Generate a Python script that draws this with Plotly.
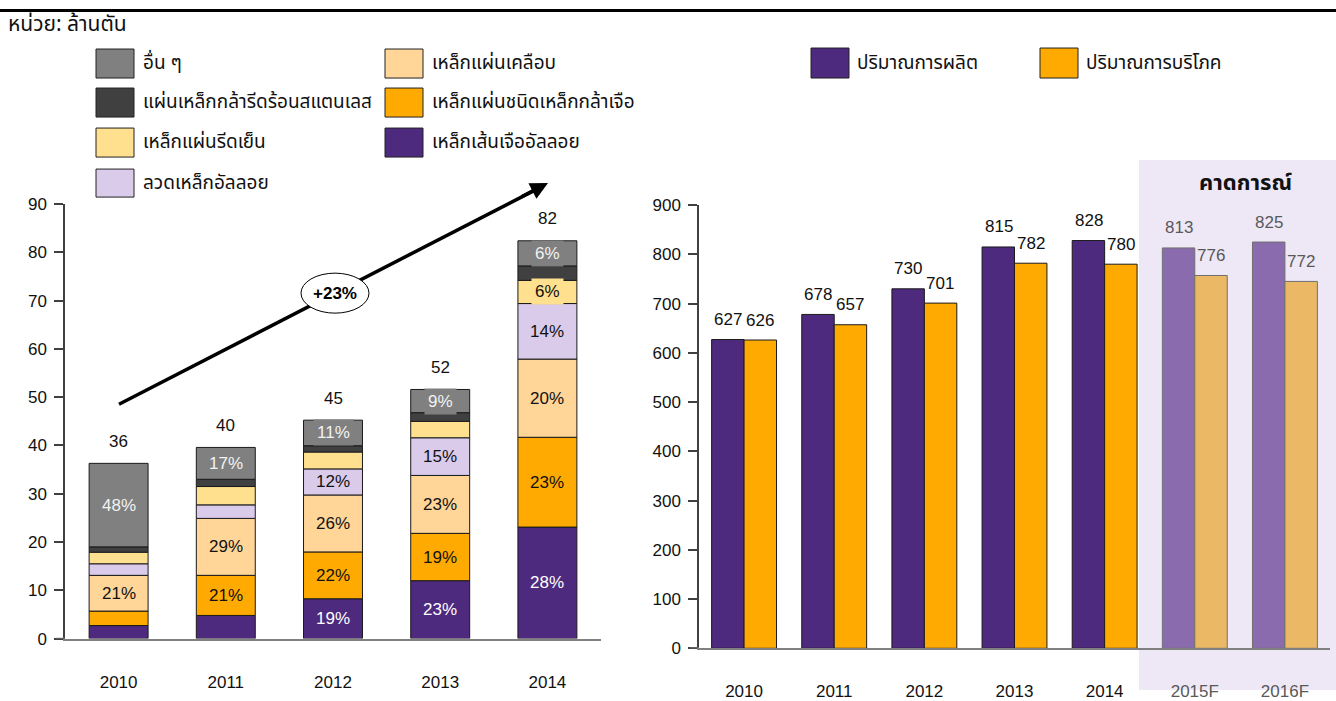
import plotly.graph_objects as go

# ---------------- data ----------------
years = ["2010", "2011", "2012", "2013", "2014"]
totals_text = ["36", "40", "45", "52", "82"]

# stacked segments (million tonnes), bottom -> top
alloy_bar = [2.7, 4.8, 8.25, 12.0, 23.1]
alloy_plate = [3.0, 8.3, 9.7, 9.8, 18.6]
coated = [7.4, 11.8, 11.8, 12.0, 16.2]
alloy_wire = [2.4, 2.8, 5.4, 7.8, 11.5]
cold_rolled = [2.4, 3.8, 3.5, 3.4, 4.8]
hr_stainless = [1.1, 1.5, 1.3, 1.8, 3.0]
others = [17.3, 6.6, 5.3, 4.8, 5.2]

alloy_bar_pct = ["", "", "19%", "23%", "28%"]
alloy_plate_pct = ["", "21%", "22%", "19%", "23%"]
coated_pct = ["21%", "29%", "26%", "23%", "20%"]
alloy_wire_pct = ["", "", "12%", "15%", "14%"]
cold_rolled_pct = ["", "", "", "", "6%"]
hr_stainless_pct = ["", "", "", "", ""]
others_pct = ["48%", "17%", "11%", "9%", "6%"]

growth_label = "+23%"

periods = ["2010", "2011", "2012", "2013", "2014", "2015F", "2016F"]
is_forecast = [False, False, False, False, False, True, True]
production = [627, 678, 730, 815, 828, 813, 825]
production_labels = ["627", "678", "730", "815", "828", "813", "825"]
consumption = [626, 657, 701, 782, 780, 757, 745]
consumption_labels = ["626", "657", "701", "782", "780", "776", "772"]

unit_label = "หน่วย: ล้านตัน"
forecast_label = "คาดการณ์"

# ---------------- styles ----------------
W, H = 1336, 701
# vertical calibration of the captured page (observed = Y0 + YS * figure_y)
Y0, YS = 9.0, 0.971
FONT = "Arial, 'Liberation Sans', sans-serif"
THAI = "Tahoma, 'Leelawadee UI', 'Noto Sans Thai', 'Noto Sans', sans-serif"

def fx(p):
    return min(1.0, max(0.0, p / W))

def fy(p):
    return min(1.0, max(0.0, 1 - ((p - Y0) / YS) / H))

stack = [
    ("เหล็กเส้นเจืออัลลอย", alloy_bar, alloy_bar_pct, "#4E2A7E", "white", None),
    ("เหล็กแผ่นชนิดเหล็กกล้าเจือ", alloy_plate, alloy_plate_pct, "#FFAA00", "#111111", None),
    ("เหล็กแผ่นเคลือบ", coated, coated_pct, "#FFD598", "#111111", None),
    ("ลวดเหล็กอัลลอย", alloy_wire, alloy_wire_pct, "#DACBEB", "#111111", None),
    ("เหล็กแผ่นรีดเย็น", cold_rolled, cold_rolled_pct, "#FFE08F", "#111111", "#FFE08F"),
    ("แผ่นเหล็กกล้ารีดร้อนสแตนเลส", hr_stainless, hr_stainless_pct, "#404040", "white", None),
    ("อื่น ๆ", others, others_pct, "#808080", "#F2F2F2", "#808080"),
]

fig = go.Figure()
annotations = []
shapes = []

# ---------------- left stacked chart ----------------
base = [0.0] * len(years)
for name, vals, pcts, color, tcolor, bg in stack:
    fig.add_trace(go.Bar(
        x=years, y=vals, base=list(base), name=name,
        marker=dict(color=color, line=dict(color="#1a1a1a", width=1)),
        width=0.55, xaxis="x", yaxis="y", showlegend=False,
    ))
    for j, t in enumerate(pcts):
        if t:
            annotations.append(dict(
                x=j, y=base[j] + vals[j] / 2, xref="x", yref="y",
                text=t, showarrow=False,
                font=dict(family=FONT, size=17, color=tcolor),
                bgcolor=bg if bg else "rgba(0,0,0,0)", borderpad=3,
            ))
    base = [b + v for b, v in zip(base, vals)]

for j, t in enumerate(totals_text):
    annotations.append(dict(
        x=j, y=base[j], xref="x", yref="y", yshift=22,
        text=t, showarrow=False, font=dict(family=FONT, size=17, color="#111111"),
    ))

# growth arrow (paper coordinates)
shapes.append(dict(type="line", xref="paper", yref="paper", x0=fx(119), y0=fy(404),
                   x1=fx(533), y1=fy(191), line=dict(color="black", width=3.5), layer="above"))
shapes.append(dict(type="circle", xref="paper", yref="paper", xsizemode="pixel", ysizemode="pixel",
                   xanchor=fx(335), yanchor=fy(293), x0=-34, x1=34, y0=-20, y1=20,
                   fillcolor="white", line=dict(color="black", width=1), layer="above"))
annotations.append(dict(x=fx(548), y=fy(183), xref="paper", yref="paper",
                        ax=-28, ay=14.4, text="", showarrow=True,
                        arrowhead=2, arrowsize=1, arrowwidth=3.5, arrowcolor="black"))
annotations.append(dict(x=fx(335), y=fy(293), xref="paper", yref="paper",
                        xanchor="center", yanchor="middle",
                        text="<b>" + growth_label + "</b>",
                        showarrow=False, font=dict(family=FONT, size=17, color="black")))

# ---------------- right grouped chart ----------------
shapes.append(dict(type="rect", xref="paper", yref="paper", x0=fx(1139), x1=1,
                   y0=0, y1=fy(160), fillcolor="#EEE8F6", line=dict(width=0), layer="below"))

prod_colors = ["#8A6BAE" if f else "#4E2A7E" for f in is_forecast]
cons_colors = ["#EBB866" if f else "#FFAA00" for f in is_forecast]
line_colors = ["#707070" if f else "#1a1a1a" for f in is_forecast]
lab_colors = ["#595959" if f else "#111111" for f in is_forecast]

fig.add_trace(go.Bar(
    x=periods, y=production, name="ปริมาณการผลิต", xaxis="x2", yaxis="y2",
    width=0.36, offset=-0.36,
    marker=dict(color=prod_colors, line=dict(color=line_colors, width=1)),
    showlegend=False,
))
fig.add_trace(go.Bar(
    x=periods, y=consumption, name="ปริมาณการบริโภค", xaxis="x2", yaxis="y2",
    width=0.36, offset=0,
    marker=dict(color=cons_colors, line=dict(color=line_colors, width=1)),
    showlegend=False,
))
for j, p in enumerate(periods):
    annotations.append(dict(x=j, y=production[j], xref="x2", yref="y2", xshift=-16, yshift=20,
                            text=production_labels[j], showarrow=False,
                            font=dict(family=FONT, size=17, color=lab_colors[j])))
    annotations.append(dict(x=j, y=consumption[j], xref="x2", yref="y2", xshift=16, yshift=20,
                            text=consumption_labels[j], showarrow=False,
                            font=dict(family=FONT, size=17, color=lab_colors[j])))

period_ticktext = [
    ("<span style='color:#595959'>%s</span>" % p) if f else p
    for p, f in zip(periods, is_forecast)
]

annotations.append(dict(x=fx(1245), y=fy(183), xref="paper", yref="paper",
                        xanchor="center", yanchor="middle",
                        text="<b>" + forecast_label + "</b>", showarrow=False,
                        font=dict(family=THAI, size=22, color="#111111")))

# ---------------- legends (drawn) ----------------
left_legend_order = [6, 5, 4, 3, 2, 1, 0]  # others, hr, cold, wire | coated, plate, bar
rows = [(49, 78), (88, 117), (128, 157), (169, 197)]
left_slots = [(96, 134, rows[0]), (96, 134, rows[1]), (96, 134, rows[2]), (96, 134, rows[3]),
              (385, 423, rows[0]), (385, 423, rows[1]), (385, 423, rows[2])]
for idx, (x0, x1, (y0, y1)) in zip(left_legend_order, left_slots):
    name, _, _, color, _, _ = stack[idx]
    shapes.append(dict(type="rect", xref="paper", yref="paper", x0=fx(x0), x1=fx(x1),
                       y0=fy(y1), y1=fy(y0), fillcolor=color,
                       line=dict(color="#222222", width=1)))
    annotations.append(dict(x=fx(x1 + 7), y=fy((y0 + y1) / 2), xref="paper", yref="paper",
                            xanchor="left", yanchor="middle", text=name, showarrow=False,
                            font=dict(family=THAI, size=19, color="#111111")))

for (x0, x1), color, name in [((811, 849), "#4E2A7E", "ปริมาณการผลิต"),
                              ((1040, 1078), "#FFAA00", "ปริมาณการบริโภค")]:
    shapes.append(dict(type="rect", xref="paper", yref="paper", x0=fx(x0), x1=fx(x1),
                       y0=fy(78), y1=fy(48), fillcolor=color,
                       line=dict(color="#222222", width=1)))
    annotations.append(dict(x=fx(x1 + 6), y=fy(63), xref="paper", yref="paper",
                            xanchor="left", yanchor="middle", text=name, showarrow=False,
                            font=dict(family=THAI, size=19, color="#111111")))

# unit label and top rule
annotations.append(dict(x=fx(6), y=fy(24), xref="paper", yref="paper", xanchor="left",
                        yanchor="middle", text=unit_label, showarrow=False,
                        font=dict(family=THAI, size=21, color="#111111")))
shapes.append(dict(type="rect", xref="paper", yref="paper", x0=0, x1=1, y0=1 - 3 / H, y1=1,
                   fillcolor="black", line=dict(width=0)))

# small x-axis stubs left of y axes
shapes.append(dict(type="line", xref="paper", yref="y", x0=fx(56), x1=fx(65), y0=0, y1=0,
                   line=dict(color="#808080", width=1.5)))
shapes.append(dict(type="line", xref="paper", yref="y2", x0=fx(690), x1=fx(699), y0=0, y1=0,
                   line=dict(color="#808080", width=1.5)))

axis_common = dict(showgrid=False, zeroline=False, fixedrange=True)

fig.update_layout(
    width=W, height=H, autosize=False,
    margin=dict(l=0, r=0, t=0, b=0),
    paper_bgcolor="white", plot_bgcolor="rgba(0,0,0,0)",
    barmode="overlay",
    font=dict(family=FONT, size=17, color="#111111"),
    xaxis=dict(domain=[fx(65), fx(601)], type="category", range=[-0.5, 4.5],
               showline=True, linecolor="#808080", linewidth=1.5, ticks="",
               ticklabelstandoff=27, tickfont=dict(size=17, color="#111111"),
               anchor="y", **axis_common),
    yaxis=dict(domain=[fy(638.3), fy(204)], range=[0, 90], dtick=10,
               showline=True, linecolor="#404040", linewidth=1.5,
               ticks="outside", ticklen=9, tickcolor="#404040", tickwidth=1.5,
               ticklabelstandoff=4, tickfont=dict(size=17, color="#111111"),
               anchor="x", **axis_common),
    xaxis2=dict(domain=[fx(699), fx(1330)], type="category", range=[-0.5, 6.5],
                tickmode="array", tickvals=periods, ticktext=period_ticktext,
                showline=True, linecolor="#808080", linewidth=1.5, ticks="",
                ticklabelstandoff=27, tickfont=dict(size=17, color="#111111"),
                anchor="y2", **axis_common),
    yaxis2=dict(domain=[fy(648), fy(205)], range=[0, 900], dtick=100,
                showline=True, linecolor="#404040", linewidth=1.5,
                ticks="outside", ticklen=9, tickcolor="#404040", tickwidth=1.5,
                ticklabelstandoff=4, tickfont=dict(size=17, color="#111111"),
                anchor="x2", **axis_common),
    shapes=shapes,
    annotations=annotations,
)

pin_to_corner = (
    "var d=document.getElementById('{plot_id}');"
    "d.style.position='fixed';d.style.left='0px';d.style.top='0px';"
    "document.body.style.margin='0';document.body.style.overflow='hidden';"
    "document.documentElement.style.overflow='hidden';"
)

fig.write_html("out.html", config={"displayModeBar": False}, post_script=pin_to_corner)
